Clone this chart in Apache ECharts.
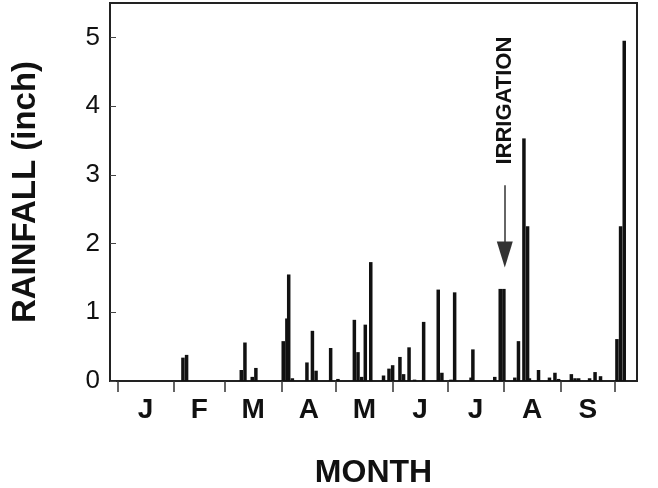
<!DOCTYPE html>
<html><head><meta charset="utf-8">
<script src="https://cdn.jsdelivr.net/npm/echarts@6/dist/echarts.min.js"></script>
<style>html,body{margin:0;padding:0;background:#fff}#c{width:658px;height:488px}</style>
</head><body><div id="c"></div>
<script>
// Day of year (Jan 1 = 0) and daily rainfall (inch)
const rainDays = [36,38,68,70,74,76,91,93,94,96,104,107,109,117,121,130,132,134,136,139,146,149,151,155,157,160,163,168,176,178,183,185,194,195,207,210,212,218,220,223,225,226,231,237,240,242,249,251,253,259,262,265,274,276,278];
const rainInches = [0.34,0.38,0.16,0.56,0.06,0.19,0.58,0.91,1.55,0.04,0.27,0.73,0.15,0.48,0.03,0.89,0.42,0.06,0.82,1.73,0.08,0.18,0.23,0.35,0.10,0.49,0.02,0.86,1.33,0.12,0.02,1.29,0.05,0.46,0.06,1.34,1.34,0.05,0.58,3.53,2.25,0.04,0.16,0.05,0.12,0.03,0.10,0.04,0.04,0.04,0.13,0.07,0.61,2.25,4.95];
const monthStarts = [0,31,59,90,120,151,181,212,243,273];
const monthLabels = ['J','F','M','A','M','J','J','A','S'];
const yTicks = [0,1,2,3,4,5];
const irrigationDay = 212.5;
const irrigationArrow = [2.85, 1.84];
const irrigationTextAt = 4.08;
const irrigationText = 'IRRIGATION';

const monthMids = monthLabels.map((_, i) => (monthStarts[i] + monthStarts[i + 1]) / 2);
const FONT = '"Liberation Sans", Arial, sans-serif';
const INK = '#111';

const chart = echarts.init(document.getElementById('c'), null, {renderer: 'canvas'});
const option = {
  animation: false,
  backgroundColor: '#fff',
  grid: {left: 110, right: 21, top: 3, bottom: 107, outerBoundsMode: 'none', containLabel: false,
    show: true, borderColor: '#222', borderWidth: 2, backgroundColor: 'transparent'},
  xAxis: {
    type: 'value', min: -4, max: 285,
    name: 'MONTH', nameLocation: 'middle', nameGap: 76,
    nameTextStyle: {fontFamily: FONT, fontWeight: 'bold', fontSize: 32, color: INK},
    axisLine: {show: true, onZero: false, lineStyle: {color: '#222', width: 2}},
    axisTick: {show: true, inside: false, length: 11, customValues: monthStarts, lineStyle: {color: '#333', width: 1.5}},
    axisLabel: {show: true, margin: 15, customValues: monthMids, fontFamily: FONT, fontWeight: 'bold', fontSize: 28, color: INK,
      formatter: v => { const i = monthMids.findIndex(m => Math.abs(m - v) < 1e-6); return i >= 0 ? monthLabels[i] : ''; }},
    splitLine: {show: false}
  },
  yAxis: {
    type: 'value', min: 0, max: 5.5, interval: 1,
    name: 'RAINFALL (inch)', nameLocation: 'middle', nameGap: 68, nameRotate: 90,
    nameTextStyle: {fontFamily: FONT, fontWeight: 'bold', fontSize: 33, color: INK},
    axisLine: {show: true, onZero: false, lineStyle: {color: '#222', width: 2}},
    axisTick: {show: true, inside: true, length: 6, customValues: yTicks, lineStyle: {color: '#444', width: 1}},
    axisLabel: {margin: 10, fontFamily: FONT, fontSize: 26, color: INK, customValues: yTicks,
      formatter: v => Number.isInteger(v) ? String(v) : ''},
    splitLine: {show: false}
  },
  series: [{
    type: 'bar',
    data: rainDays.map((d, i) => [d, rainInches[i]]),
    barWidth: 3.5,
    itemStyle: {color: INK},
    markLine: {
      silent: true,
      symbol: ['none', 'triangle'],
      symbolSize: [16, 26],
      label: {show: false},
      lineStyle: {color: '#333', width: 1.5, type: 'solid'},
      data: [[{coord: [irrigationDay, irrigationArrow[0]]}, {coord: [irrigationDay, irrigationArrow[1]]}]]
    }
  }]
};
chart.setOption(option);
const p = chart.convertToPixel({xAxisIndex: 0, yAxisIndex: 0}, [irrigationDay, irrigationTextAt]);
chart.setOption({graphic: [{
  type: 'text', x: p[0], y: p[1], rotation: Math.PI / 2,
  style: {text: irrigationText, fontFamily: FONT, fontWeight: 'bold', fontSize: 22, fill: INK, align: 'center', verticalAlign: 'middle'}
}]});
</script></body></html>
